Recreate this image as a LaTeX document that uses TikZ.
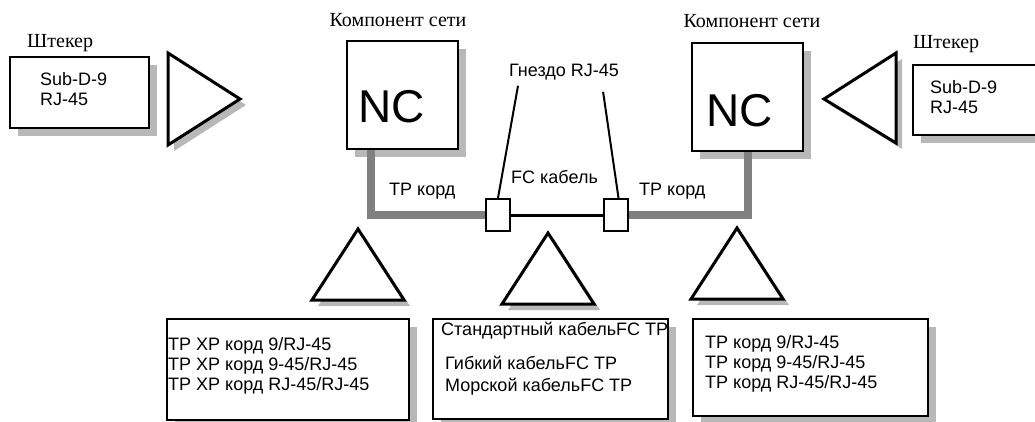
\documentclass[tikz,border=0pt]{standalone}
\usepackage{fontspec}
\setmainfont{Liberation Sans}
\newfontfamily\ruserif{Liberation Serif}
\definecolor{cordgray}{RGB}{128,128,128}

\begin{document}
\begin{tikzpicture}[
    x=1pt, y=-1pt,
    every node/.style={font=\fontsize{18}{20}\selectfont, inner sep=0pt},
    txt/.style={anchor=base west},
    heading/.style={font=\ruserif\fontsize{20}{24}\selectfont},
    big/.style={font=\fontsize{46}{50}\selectfont},
    frame/.style={draw, line width=2pt, fill=white, anchor=north west},
    boxshadow/.style={fill=black!28},
    tri/.style={draw, line width=3pt, line join=miter, fill=white},
    jack/.style={draw, line width=2pt, fill=white, minimum width=24pt, minimum height=32pt},
    cord/.style={draw=cordgray, line width=8pt},
    cable/.style={draw, line width=3pt}
  ]
  \path[use as bounding box] (0,0) rectangle (1035,421);

  % shadows
  \fill[boxshadow] (18,65) rectangle (157,136);
  \fill[boxshadow] (921,73) rectangle (1061,143);
  \fill[boxshadow] (355,49) rectangle (466,157);
  \fill[boxshadow] (700,51) rectangle (811,159);
  \fill[boxshadow] (175,327) rectangle (417,428);
  \fill[boxshadow] (441,327) rectangle (676,427);
  \fill[boxshadow] (701,327) rectangle (936,424);
  \fill[boxshadow] (174,59) -- (174,151) -- (246,105) -- cycle;
  \fill[boxshadow] (902,59) -- (902,149) -- (830,105) -- cycle;
  \foreach \x/\y in {358/229, 548/233, 737/228}
    \fill[boxshadow] (\x+6,\y+6) -- ++(46,71) -- ++(-92,0) -- cycle;

  % plugs
  \node[heading, txt] (plugLhead) at (27,47) {Штекер};
  \node[frame, minimum width=139pt, minimum height=71pt] (plugL) at (9,56) {};
  \node[txt] (plugL1) at (40,85) {Sub-D-9};
  \node[txt] (plugL2) at (40,105) {RJ-45};
  \draw[tri] (168,53) -- (168,145) -- (240,99) -- cycle;

  \node[heading, txt] (plugRhead) at (913,48) {Штекер};
  \node[frame, minimum width=140pt, minimum height=70pt] (plugR) at (912,64) {};
  \node[txt] (plugR1) at (930,93) {Sub-D-9};
  \node[txt] (plugR2) at (930,113) {RJ-45};
  \draw[tri] (896,53) -- (896,143) -- (824,99) -- cycle;

  % network components
  \node[heading, anchor=base] (compL) at (398,26) {Компонент сети};
  \node[frame, minimum width=111pt, minimum height=108pt] (ncL) at (346,40) {};
  \node[big, txt] (ncLtext) at (358,122) {NC};
  \node[heading, anchor=base] (compR) at (752,27) {Компонент сети};
  \node[frame, minimum width=111pt, minimum height=108pt] (ncR) at (691,42) {};
  \node[big, txt] (ncRtext) at (706,126) {NC};

  % cords and cable
  \coordinate (jL) at (498,215);
  \coordinate (jR) at (615.5,215);
  \draw[cord] ([xshift=25pt]ncL.south west) |- (jL);
  \draw[cord] (ncR.south) |- (jR);
  \draw[cable] (jL) -- (jR);
  \node[jack] (jackL) at (jL) {};
  \node[jack] (jackR) at (jR) {};

  \node[txt] (jackhead) at (509,76) {Гнездо RJ-45};
  \draw[line width=2pt] ([xshift=9pt,yshift=-6pt]jackhead.south west) -- (jackL.north);
  \draw[line width=2pt] ([xshift=-16pt,yshift=-12pt]jackhead.south east) -- ([xshift=3pt]jackR.north);
  \node[txt] (cordL) at (389,195) {TP корд};
  \node[txt] (cable) at (511,183) {FC кабель};
  \node[txt] (cordR) at (639,195) {TP корд};

  % parts lists
  \foreach \x/\y in {358/229, 548/233, 737/228}
    \draw[tri] (\x,\y) -- ++(46,71) -- ++(-92,0) -- cycle;

  \node[frame, minimum width=242pt, minimum height=101pt] (kitL) at (166,318) {};
  \foreach \t [count=\i] in {TP XP корд 9/RJ-45, TP XP корд 9-45/RJ-45, TP XP корд RJ-45/RJ-45}
    \node[txt] (kitL\i) at (168,330+20*\i) {\t};

  \node[frame, minimum width=235pt, minimum height=100pt] (kitM) at (432,318) {};
  \node[txt] (kitM1) at (441,335) {Стандартный кабельFC TP};
  \node[txt] (kitM2) at (445,369) {Гибкий кабельFC TP};
  \node[txt] (kitM3) at (445,391) {Морской кабельFC TP};

  \node[frame, minimum width=235pt, minimum height=97pt] (kitR) at (692,318) {};
  \foreach \t [count=\i] in {TP корд 9/RJ-45, TP корд 9-45/RJ-45, TP корд RJ-45/RJ-45}
    \node[txt] (kitR\i) at (705,328+20*\i) {\t};
\end{tikzpicture}
\end{document}
